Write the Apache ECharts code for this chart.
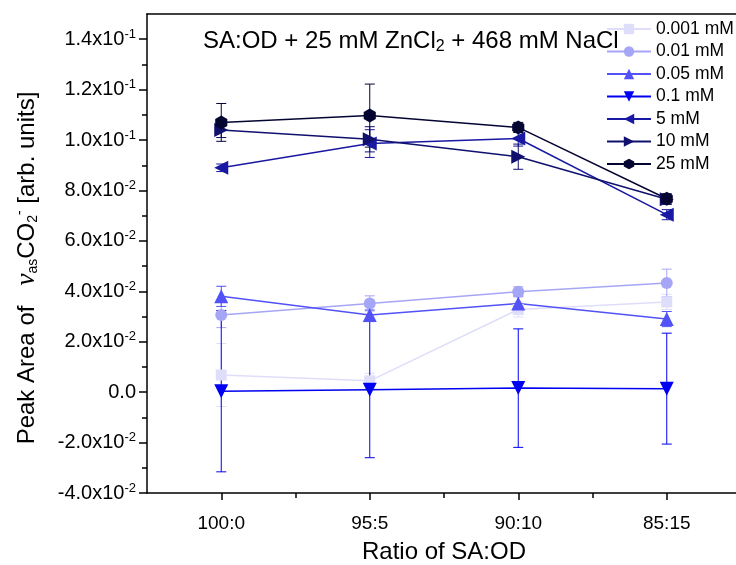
<!DOCTYPE html>
<html>
<head>
<meta charset="utf-8">
<script src="https://cdn.jsdelivr.net/npm/echarts@6/dist/echarts.min.js"></script>
<style>
  html, body { margin: 0; padding: 0; background: #fff; }
  #chart { width: 736px; height: 565px; }
</style>
</head>
<body>
<div id="chart"></div>
<script>
// 横轴类别 (SA:OD 比例)
var ratios = ['100:0', '95:5', '90:10', '85:15'];

// 各浓度的峰面积 与 误差
var conc0001 = [0.0068, 0.0045, 0.0328, 0.0358];
var err0001 = [0.0125, 0.003, 0.003, 0.003];
var conc001 = [0.0306, 0.0352, 0.0398, 0.0433];
var err001 = [0.005, 0.003, 0.002, 0.0055];
var conc005 = [0.0380, 0.0306, 0.0352, 0.0290];
var err005 = [0.004, 0.002, 0.003, 0.003];
var conc01 = [0.0004, 0.0010, 0.0016, 0.0014];
var err01 = [0.032, 0.027, 0.0235, 0.022];
var conc5 = [0.0890, 0.0986, 0.1006, 0.0704];
var err5 = [0.0015, 0.0055, 0.003, 0.002];
var conc10 = [0.1040, 0.1003, 0.0934, 0.0765];
var err10 = [0.003, 0.005, 0.005, 0.002];
var conc25 = [0.1070, 0.1097, 0.1050, 0.0767];
var err25 = [0.0075, 0.0125, 0.002, 0.002];

// 纵轴刻度标签
var yTickVals = [-0.04, -0.02, 0, 0.02, 0.04, 0.06, 0.08, 0.10, 0.12, 0.14];
var yTickMant = ['-4.0', '-2.0', '0.0', '2.0', '4.0', '6.0', '8.0', '1.0', '1.2', '1.4'];
var yTickExp = ['-2', '-2', '', '-2', '-2', '-2', '-2', '-1', '-1', '-1'];
var yMinorVals = [-0.03, -0.01, 0.01, 0.03, 0.05, 0.07, 0.09, 0.11, 0.13];

var FONT = 'Liberation Sans, Arial, sans-serif';
var hexagon = 'path://M0,-1L0.866,-0.5L0.866,0.5L0,1L-0.866,0.5L-0.866,-0.5Z';

var seriesDefs = [
  { name: '0.001 mM', vals: conc0001, errs: err0001, color: '#dedefa', symbol: 'rect', size: 11, rotate: 0 },
  { name: '0.01 mM', vals: conc001, errs: err001, color: '#a6a6f6', symbol: 'circle', size: 12, rotate: 0 },
  { name: '0.05 mM', vals: conc005, errs: err005, color: '#5252f6', symbol: 'triangle', size: 14, rotate: 0 },
  { name: '0.1 mM', vals: conc01, errs: err01, color: '#0000f2', symbol: 'triangle', size: 14, rotate: 180 },
  { name: '5 mM', vals: conc5, errs: err5, color: '#1818a2', symbol: 'triangle', size: 14, rotate: 90 },
  { name: '10 mM', vals: conc10, errs: err10, color: '#10106e', symbol: 'triangle', size: 14, rotate: -90 },
  { name: '25 mM', vals: conc25, errs: err25, color: '#050532', symbol: hexagon, size: 14, rotate: 0 }
];

function errorBar(color) {
  return function (params, api) {
    var x = api.value(0);
    var top = api.coord([x, api.value(2)]);
    var bot = api.coord([x, api.value(1)]);
    var hw = 5;
    var st = { stroke: color, lineWidth: 1 };
    return {
      type: 'group',
      children: [
        { type: 'line', shape: { x1: top[0], y1: top[1], x2: bot[0], y2: bot[1] }, style: st },
        { type: 'line', shape: { x1: top[0] - hw, y1: top[1], x2: top[0] + hw, y2: top[1] }, style: st },
        { type: 'line', shape: { x1: bot[0] - hw, y1: bot[1], x2: bot[0] + hw, y2: bot[1] }, style: st }
      ]
    };
  };
}

var series = [];
seriesDefs.forEach(function (d) {
  series.push({
    name: d.name + ' err',
    type: 'custom',
    z: 1,
    silent: true,
    renderItem: errorBar(d.color),
    encode: { x: 0, y: [1, 2] },
    data: d.vals.map(function (v, i) { return [i + 1, v - d.errs[i], v + d.errs[i]]; })
  });
});
seriesDefs.forEach(function (d) {
  series.push({
    name: d.name,
    type: 'line',
    z: 3,
    symbol: d.symbol,
    symbolSize: d.size,
    symbolRotate: d.rotate,
    symbolKeepAspect: true,
    showAllSymbol: true,
    color: d.color,
    lineStyle: { color: d.color, width: 1.5 },
    itemStyle: { color: d.color },
    data: d.vals.map(function (v, i) { return [i + 1, v]; })
  });
});

var chart = echarts.init(document.getElementById('chart'));
var option = {
  animation: false,
  backgroundColor: '#fff',
  textStyle: { fontFamily: FONT },
  grid: { left: 147, top: 14, width: 594, height: 479, containLabel: false, outerBoundsMode: 'none' },
  title: {
    left: 198, top: 22,
    text: '{a|SA:OD + 25 mM ZnCl}{s|2}{a| + 468 mM NaCl}',
    textStyle: {
      rich: {
        a: { fontSize: 24, color: '#000', fontFamily: FONT, fontWeight: 'normal' },
        s: { fontSize: 16, color: '#000', fontFamily: FONT, fontWeight: 'normal', padding: [12, 0, 0, 0] }
      }
    }
  },
  legend: {
    orient: 'vertical',
    left: 606, top: 20, padding: 0,
    itemWidth: 44, itemHeight: 13, itemGap: 4.5,
    textStyle: { fontSize: 17.5, color: '#000', fontFamily: FONT },
    data: seriesDefs.map(function (d) { return d.name; })
  },
  xAxis: [{
    type: 'value', min: 0.5, max: 4.5,
    position: 'bottom',
    name: 'Ratio of SA:OD', nameLocation: 'middle', nameGap: 47,
    nameTextStyle: { fontSize: 24, color: '#000', fontFamily: FONT },
    axisLine: { onZero: false, lineStyle: { color: '#000', width: 1.5 } },
    axisTick: { customValues: [1, 2, 3, 4], length: 7, lineStyle: { color: '#000', width: 1.5 } },
    axisLabel: {
      customValues: [1, 2, 3, 4], margin: 21, fontSize: 19, color: '#000', fontFamily: FONT,
      formatter: function (v) { return ratios[Math.round(v) - 1]; }
    },
    splitLine: { show: false }
  }, {
    type: 'value', min: 0.5, max: 4.5,
    position: 'bottom',
    axisLine: { show: false, onZero: false },
    axisTick: { customValues: [1.5, 2.5, 3.5], length: 5, lineStyle: { color: '#000', width: 1.5 } },
    axisLabel: { show: false },
    splitLine: { show: false }
  }, {
    type: 'value', min: 0.5, max: 4.5,
    position: 'top',
    axisLine: { onZero: false, lineStyle: { color: '#000', width: 1.5 } },
    axisTick: { show: false },
    axisLabel: { show: false },
    splitLine: { show: false }
  }],
  yAxis: [{
    type: 'value', min: -0.04, max: 0.15,
    position: 'left',
    axisLine: { show: true, onZero: false, lineStyle: { color: '#000', width: 1.5 } },
    axisTick: { customValues: yTickVals, length: 8, lineStyle: { color: '#000', width: 1.5 } },
    axisLabel: {
      customValues: yTickVals, margin: 11,
      formatter: function (v) {
        for (var i = 0; i < yTickVals.length; i++) {
          if (Math.abs(yTickVals[i] - v) < 1e-9) {
            if (!yTickExp[i]) return '{n|' + yTickMant[i] + '}';
            return '{n|' + yTickMant[i] + 'x10}{s|' + yTickExp[i] + '}';
          }
        }
        return '';
      },
      rich: {
        n: { fontSize: 20, color: '#000', fontFamily: FONT },
        s: { fontSize: 13, color: '#000', fontFamily: FONT, padding: [0, 0, 10, 0] }
      }
    },
    splitLine: { show: false }
  }, {
    type: 'value', min: -0.04, max: 0.15,
    position: 'left',
    axisLine: { show: false, onZero: false },
    axisTick: { customValues: yMinorVals, length: 5, lineStyle: { color: '#000', width: 1.5 } },
    axisLabel: { show: false },
    splitLine: { show: false }
  }],
  graphic: [{
    type: 'text',
    x: 27, y: 268,
    rotation: Math.PI / 2,
    style: {
      text: '{n|Peak Area of   }{g|ν}{b|as}{n|CO}{b|2}{p|-}{n| [arb. units]}',
      align: 'center', verticalAlign: 'middle',
      rich: {
        n: { fontSize: 24, fill: '#000', fontFamily: FONT },
        g: { fontSize: 27, fill: '#000', fontFamily: 'Liberation Serif, serif', fontStyle: 'italic' },
        b: { fontSize: 14, fill: '#000', fontFamily: FONT, padding: [12, 0, 0, 0] },
        p: { fontSize: 14, fill: '#000', fontFamily: FONT, padding: [0, 0, 14, 0] }
      }
    }
  }],
  series: series
};
chart.setOption(option);
</script>
</body>
</html>
